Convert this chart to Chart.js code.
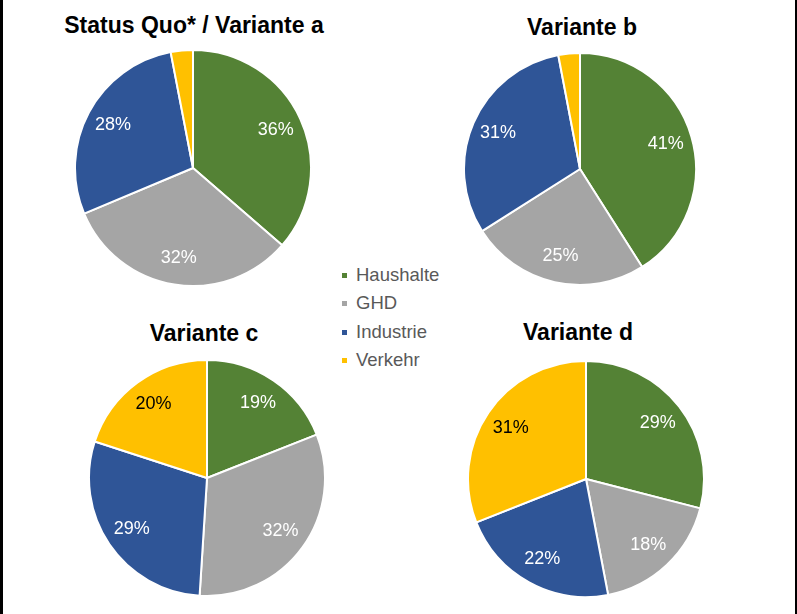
<!DOCTYPE html>
<html>
<head>
<meta charset="utf-8">
<script src="https://cdn.jsdelivr.net/npm/chart.js@4/dist/chart.umd.min.js"></script>
<style>
  html, body { margin: 0; padding: 0; background: #fff; }
  #wrap {
    position: relative; width: 797px; height: 614px; overflow: hidden;
    font-family: "Liberation Sans", Arial, sans-serif;
  }
  .edge { position: absolute; top: 0; height: 614px; background: #000; }
  .title {
    position: absolute; font-weight: bold; font-size: 23px; color: #000;
    transform: translate(-50%, -50%); white-space: nowrap;
  }
  canvas { position: absolute; }
  #legend { position: absolute; left: 342px; top: 261px; }
  .item { height: 28.3px; line-height: 28px; font-size: 18.5px; color: #595959; position: relative; padding-left: 14px; }
  .item span.sw { position: absolute; left: 0; top: 12px; width: 5px; height: 5px; }
</style>
</head>
<body>
<div id="wrap">
  <div class="edge" style="left:0;width:3px"></div>
  <div class="edge" style="left:795px;width:2px"></div>
</div>
<script>
// Kategorien und Farben
const categories = ['Haushalte', 'GHD', 'Industrie', 'Verkehr'];
const colors = ['#548235', '#A5A5A5', '#2F5597', '#FFC000'];
const labelColors = ['#ffffff', '#ffffff', '#ffffff', '#000000'];

// Anteile in % je Variante
const statusQuo = [36, 32, 28, 3];
const varianteB = [41, 25, 31, 3];
const varianteC = [19, 32, 29, 20];
const varianteD = [29, 18, 22, 31];

const titles = ['Status Quo* / Variante a', 'Variante b', 'Variante c', 'Variante d'];

// Position (Mittelpunkt, Radius) der vier Kreise
const pies = [
    { data: statusQuo, cx: 193, cy: 168, r: 118, tx: 194, ty: 25 },
    { data: varianteB, cx: 580, cy: 169, r: 116, tx: 582, ty: 27 },
    { data: varianteC, cx: 207, cy: 478, r: 118, tx: 204, ty: 333 },
    { data: varianteD, cx: 586, cy: 479, r: 118, tx: 578, ty: 332 }
];

// Prozentbeschriftung innerhalb der Segmente
const pieLabels = {
    id: 'pieLabels',
    afterDatasetsDraw(chart) {
        const ctx = chart.ctx;
        const meta = chart.getDatasetMeta(0);
        const values = chart.data.datasets[0].data;
        ctx.save();
        ctx.font = '18px "Liberation Sans", Arial, sans-serif';
        ctx.textAlign = 'center';
        ctx.textBaseline = 'middle';
        meta.data.forEach((arc, i) => {
            if (values[i] < 5) return;
            const p = arc.getProps(['x', 'y', 'startAngle', 'endAngle', 'outerRadius'], true);
            const mid = (p.startAngle + p.endAngle) / 2;
            const d = p.outerRadius * 0.77;
            ctx.fillStyle = labelColors[i];
            ctx.fillText(values[i] + '%', p.x + Math.cos(mid) * d, p.y + Math.sin(mid) * d);
        });
        ctx.restore();
    }
};

const wrap = document.getElementById('wrap');

pies.forEach((pie, idx) => {
    const t = document.createElement('div');
    t.className = 'title';
    t.style.left = pie.tx + 'px';
    t.style.top = pie.ty + 'px';
    t.textContent = titles[idx];
    wrap.appendChild(t);

    const size = pie.r * 2 + 2;
    const canvas = document.createElement('canvas');
    canvas.width = size;
    canvas.height = size;
    canvas.style.left = (pie.cx - size / 2) + 'px';
    canvas.style.top = (pie.cy - size / 2) + 'px';
    canvas.style.width = size + 'px';
    canvas.style.height = size + 'px';
    wrap.appendChild(canvas);

    new Chart(canvas.getContext('2d'), {
        type: 'pie',
        data: {
            labels: categories,
            datasets: [{
                data: pie.data,
                backgroundColor: colors,
                borderColor: '#ffffff',
                borderWidth: 2
            }]
        },
        options: {
            responsive: false,
            animation: false,
            layout: { padding: 0 },
            plugins: {
                legend: { display: false },
                tooltip: { enabled: false }
            }
        },
        plugins: [pieLabels]
    });
});

// Legende
const legend = document.createElement('div');
legend.id = 'legend';
categories.forEach((name, i) => {
    const item = document.createElement('div');
    item.className = 'item';
    item.innerHTML = '<span class="sw" style="background:' + colors[i] + '"></span>' + name;
    legend.appendChild(item);
});
wrap.appendChild(legend);
</script>
</body>
</html>
